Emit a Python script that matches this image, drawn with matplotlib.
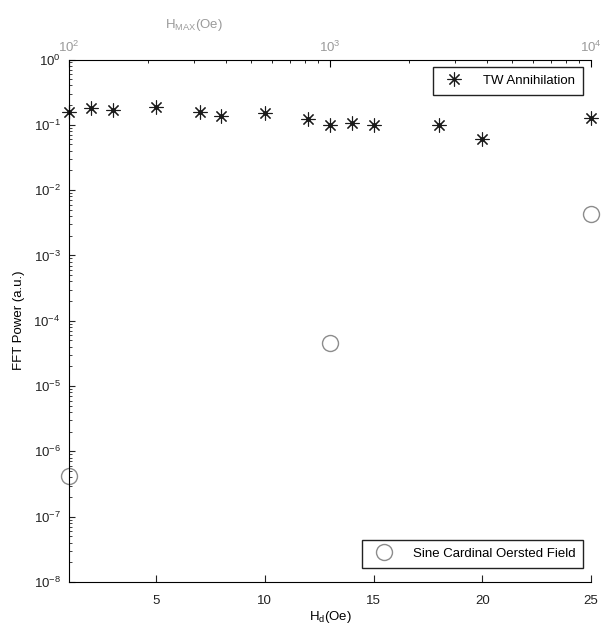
import math
import matplotlib
matplotlib.use("Agg")
import matplotlib.pyplot as plt
from matplotlib.ticker import FixedLocator, FuncFormatter, LogLocator, NullFormatter

plt.rcParams['font.family'] = ['Liberation Sans', 'DejaVu Sans']
plt.rcParams['mathtext.default'] = 'regular'

# dados
hd_tw = [1, 2, 3, 5, 7, 8, 10, 12, 13, 14, 15, 18, 20, 25]
power_tw = [0.159, 0.179, 0.169, 0.189, 0.159, 0.138, 0.153, 0.123,
            0.099, 0.107, 0.099, 0.099, 0.060, 0.125]

hd_sinc = [1, 13, 25]
power_sinc = [4.2e-7, 4.5e-5, 4.3e-3]

xticks = [5, 10, 15, 20, 25]
cinza = '#8c8c8c'
cinza_claro = '#9a9a9a'

fig = plt.figure(figsize=(6.07, 6.34), dpi=100)
ax = fig.add_axes([69/607, 52/634, 522/607, 522.5/634])

ax.plot(hd_tw, power_tw, linestyle='none', marker=(8, 2, 0), markersize=10,
        markeredgewidth=0.8, color='#1a1a1a', label='TW Annihilation', clip_on=False)
ax.plot(hd_tw, power_tw, linestyle='none', marker='o', markersize=2.5,
        color='#1a1a1a', clip_on=False)
ax.plot(hd_sinc, power_sinc, linestyle='none', marker='o', markersize=11.5,
        markerfacecolor='none', markeredgecolor=cinza, markeredgewidth=1.0,
        label='Sine Cardinal Oersted Field', clip_on=False)

ax.set_yscale('log')
ax.set_xlim(1, 25)
ax.set_ylim(1e-8, 1)
ax.xaxis.set_major_locator(FixedLocator(xticks))
ax.yaxis.set_major_locator(LogLocator(base=10, numticks=20))
ax.yaxis.set_minor_locator(LogLocator(base=10, subs=range(2, 10), numticks=20))
ax.yaxis.set_minor_formatter(NullFormatter())
ax.yaxis.set_major_formatter(FuncFormatter(lambda v, p: '$10^{%d}$' % round(math.log10(v))))
ax.tick_params(axis='both', which='both', direction='in', labelsize=9.5, colors='#222222')
ax.tick_params(axis='y', which='major', length=4, pad=6)
ax.tick_params(axis='y', which='minor', length=2)
ax.tick_params(axis='x', which='major', length=5, pad=9)
ax.spines['right'].set_visible(False)
ax.spines['top'].set_visible(False)

ax.set_xlabel('$H_d$(Oe)', fontsize=9.5, labelpad=2)
ax.set_ylabel('FFT Power (a.u.)', fontsize=9.5, labelpad=6)

# eixo superior
ax2 = ax.twiny()
ax2.set_xscale('log')
ax2.set_xlim(1e2, 1e4)
ax2.spines['right'].set_visible(False)
ax2.spines['left'].set_visible(False)
ax2.spines['bottom'].set_visible(False)
ax2.tick_params(axis='x', which='both', direction='in', labelsize=9.5,
                labelcolor=cinza_claro, pad=3)
ax2.tick_params(axis='x', which='major', length=5)
ax2.tick_params(axis='x', which='minor', length=2.5)
ax2.text(0.24, 1.05, '$H_{MAX}$(Oe)', transform=ax.transAxes, fontsize=9.5,
         color=cinza_claro, ha='center', va='bottom')

h1, h2 = ax.get_legend_handles_labels()[0]
leg1 = ax.legend([h1], ['TW Annihilation'], loc='upper right',
                 bbox_to_anchor=(0.985, 0.986), borderaxespad=0, fancybox=False,
                 edgecolor='#222222', framealpha=1, fontsize=9.5, numpoints=1,
                 handlelength=2.0, handletextpad=1.2, borderpad=0.6)
leg1.get_frame().set_linewidth(1.0)
ax.add_artist(leg1)
leg2 = ax.legend([h2], ['Sine Cardinal Oersted Field'], loc='lower right',
                 bbox_to_anchor=(0.985, 0.027), borderaxespad=0, fancybox=False,
                 edgecolor='#222222', framealpha=1, fontsize=9.5, numpoints=1,
                 handlelength=2.0, handletextpad=1.2, borderpad=0.6)
leg2.get_frame().set_linewidth(1.0)

fig.savefig('out.png', dpi=100)
